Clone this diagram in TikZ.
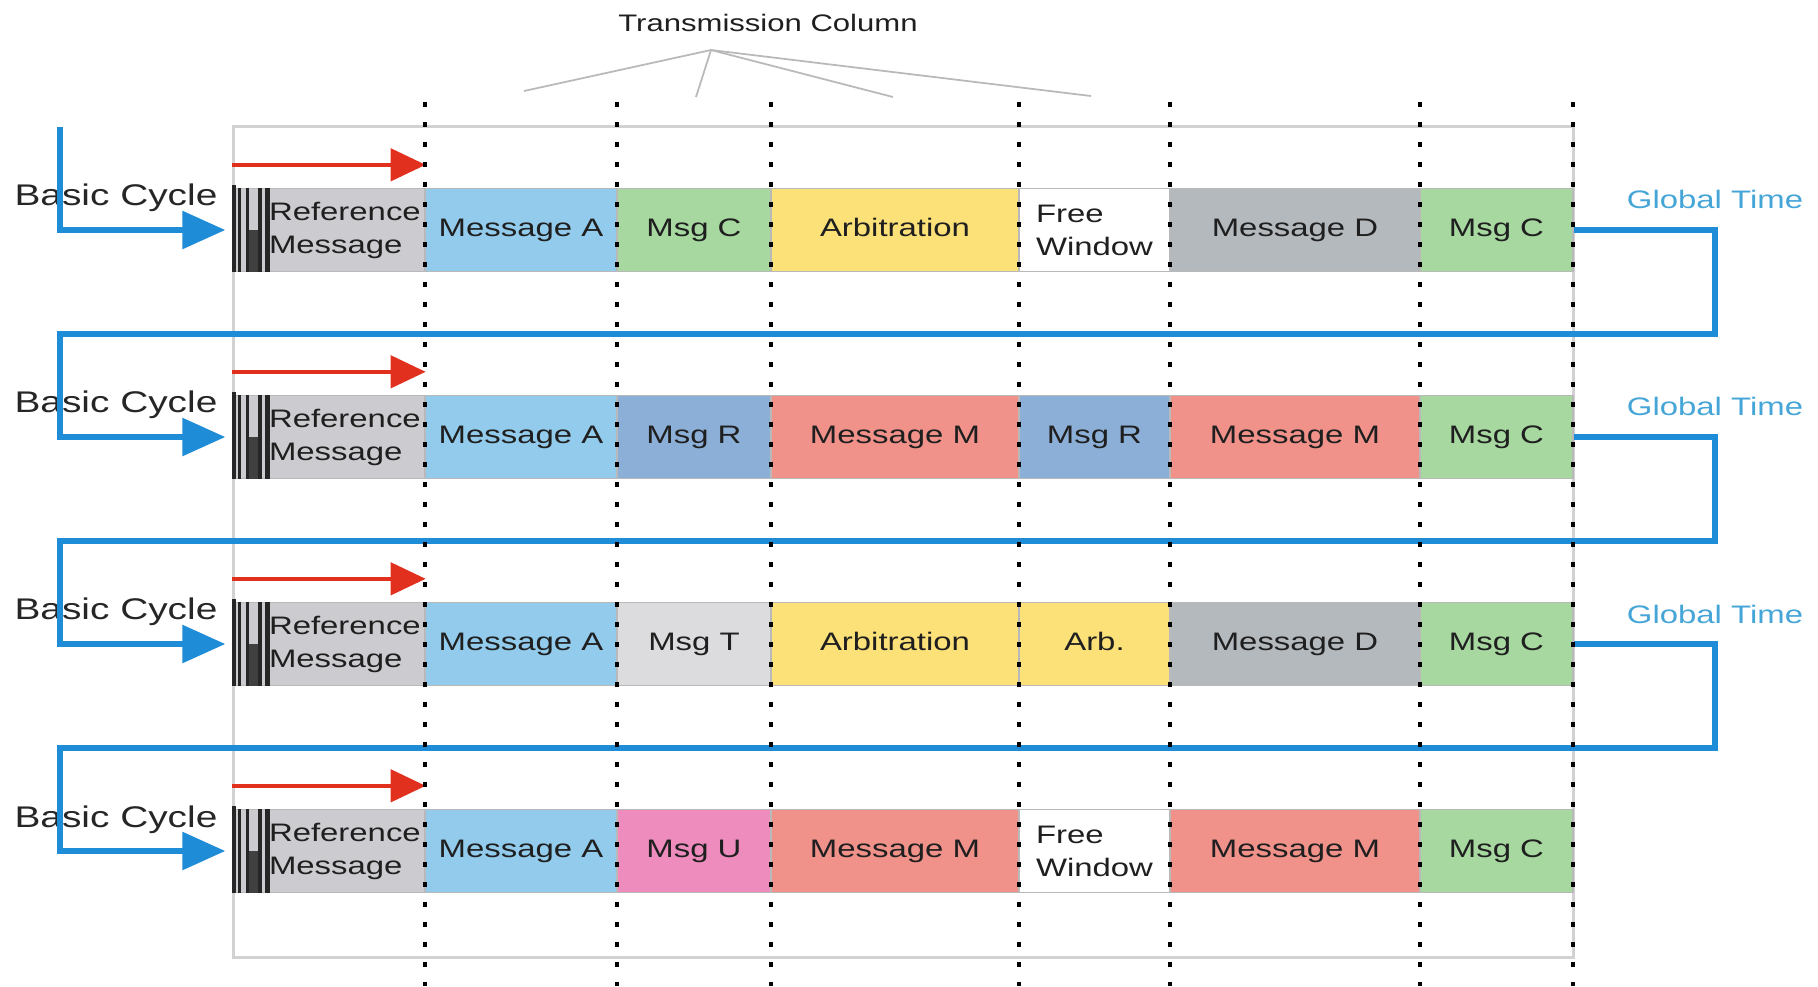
\documentclass[tikz,border=0pt]{standalone}
\usepackage{fontspec}
\setmainfont{Liberation Sans}[FakeStretch=1.3]
\usepackage{xcolor}
\usepackage{tikz}
\usetikzlibrary{arrows.meta, positioning}

\definecolor{refgray}{RGB}{204,204,208}
\definecolor{msgblue}{RGB}{146,203,236}
\definecolor{msggreen}{RGB}{166,216,160}
\definecolor{arbyellow}{RGB}{252,224,120}
\definecolor{msggray}{RGB}{180,185,190}
\definecolor{msgsteel}{RGB}{140,175,215}
\definecolor{msgsalmon}{RGB}{240,145,138}
\definecolor{msglight}{RGB}{220,220,222}
\definecolor{msgpink}{RGB}{238,140,190}
\definecolor{cycleblue}{RGB}{30,140,215}
\definecolor{timeblue}{RGB}{70,165,215}
\definecolor{refred}{RGB}{225,48,30}

% bars at the head of a reference message
\newcommand{\refbars}[1]{%
  \fill[black!85] ([yshift=0.03cm]#1.north west) rectangle ([xshift=0.04cm]#1.south west);
  \fill[black!85] ([xshift=0.06cm]#1.north west) rectangle ([xshift=0.09cm]#1.south west);
  \fill[black!85] ([xshift=0.14cm]#1.north west) rectangle ([xshift=0.17cm]#1.south west);
  \fill[black!75] ([xshift=0.17cm]#1.west) rectangle ([xshift=0.26cm]#1.south west);
  \fill[black!85] ([xshift=0.26cm]#1.north west) rectangle ([xshift=0.30cm]#1.south west);
  \fill[black!85] ([xshift=0.33cm]#1.north west) rectangle ([xshift=0.38cm]#1.south west);
}

\begin{document}
\begin{tikzpicture}[
  cell/.style={draw=gray!55, line width=0.4pt, minimum height=0.83cm, inner sep=0pt, align=left, text=black!88, text height=0.75em, text depth=0.37em, font=\fontsize{7.2}{9.4}\selectfont},
  twoline/.style={text height={}, text depth={}},
  slotref/.style={cell, fill=refgray, minimum width=1.92cm},
  slotA/.style={cell, minimum width=1.92cm},
  slotB/.style={cell, minimum width=1.54cm},
  slotC/.style={cell, minimum width=2.48cm},
  slotD/.style={cell, minimum width=1.51cm},
  slotE/.style={cell, minimum width=2.50cm},
  slotF/.style={cell, minimum width=1.53cm},
  reftext/.style={anchor=west, inner sep=0pt, align=left, text=black!88, font=\fontsize{7.2}{9.4}\selectfont},
  cyclelabel/.style={inner sep=0pt, text=black!85, font=\fontsize{8.5}{10}\selectfont},
  timelabel/.style={inner sep=0pt, text=timeblue, font=\fontsize{7.2}{9}\selectfont},
  cycleline/.style={draw=cycleblue, line width=0.06cm, -{Triangle[length=0.43cm, width=0.37cm]}},
  refarrow/.style={draw=refred, line width=0.045cm, -{Triangle[length=0.35cm, width=0.32cm]}},
  slotline/.style={black, line width=0.045cm, dash pattern=on 0.045cm off 0.155cm},
  pointer/.style={draw=gray!55, line width=0.5pt}
]
\useasboundingbox (0,0) rectangle (18.18,-9.86);

% Transmission column label
\node[inner sep=0pt, text=black!88, font=\fontsize{6.8}{8}\selectfont] (tcol) at (7.68,-0.23) {Transmission Column};
\coordinate (tapex) at (7.11,-0.50);
\coordinate (tc1) at (5.24,-0.91);
\coordinate (tc2) at (6.96,-0.97);
\coordinate (tc3) at (8.93,-0.97);
\coordinate (tc4) at (10.91,-0.96);
\draw[pointer] (tapex) -- (tc1);
\draw[pointer] (tapex) -- (tc2);
\draw[pointer] (tapex) -- (tc3);
\draw[pointer] (tapex) -- (tc4);

% Frame
\draw[gray!35, line width=0.03cm] (2.33,-1.26) rectangle (15.73,-9.57);

% Cycle 1
\node[slotref] (r1ref) at (3.29,-2.30) {};
\node[slotA, fill=msgblue] (r1a) at (5.21,-2.30) {Message A};
\node[slotB, fill=msggreen] (r1b) at (6.94,-2.30) {Msg C};
\node[slotC, fill=arbyellow] (r1c) at (8.95,-2.30) {Arbitration};
\node[slotD, twoline, fill=white] (r1d) at (10.945,-2.30) {Free\\Window};
\node[slotE, fill=msggray] (r1e) at (12.95,-2.30) {Message D};
\node[slotF, fill=msggreen] (r1f) at (14.965,-2.30) {Msg C};

% Cycle 2
\node[slotref] (r2ref) at (3.29,-4.37) {};
\node[slotA, fill=msgblue] (r2a) at (5.21,-4.37) {Message A};
\node[slotB, fill=msgsteel] (r2b) at (6.94,-4.37) {Msg R};
\node[slotC, fill=msgsalmon] (r2c) at (8.95,-4.37) {Message M};
\node[slotD, fill=msgsteel] (r2d) at (10.945,-4.37) {Msg R};
\node[slotE, fill=msgsalmon] (r2e) at (12.95,-4.37) {Message M};
\node[slotF, fill=msggreen] (r2f) at (14.965,-4.37) {Msg C};

% Cycle 3
\node[slotref] (r3ref) at (3.29,-6.44) {};
\node[slotA, fill=msgblue] (r3a) at (5.21,-6.44) {Message A};
\node[slotB, fill=msglight] (r3b) at (6.94,-6.44) {Msg T};
\node[slotC, fill=arbyellow] (r3c) at (8.95,-6.44) {Arbitration};
\node[slotD, fill=arbyellow] (r3d) at (10.945,-6.44) {Arb.};
\node[slotE, fill=msggray] (r3e) at (12.95,-6.44) {Message D};
\node[slotF, fill=msggreen] (r3f) at (14.965,-6.44) {Msg C};

% Cycle 4
\node[slotref] (r4ref) at (3.29,-8.51) {};
\node[slotA, fill=msgblue] (r4a) at (5.21,-8.51) {Message A};
\node[slotB, fill=msgpink] (r4b) at (6.94,-8.51) {Msg U};
\node[slotC, fill=msgsalmon] (r4c) at (8.95,-8.51) {Message M};
\node[slotD, twoline, fill=white] (r4d) at (10.945,-8.51) {Free\\Window};
\node[slotE, fill=msgsalmon] (r4e) at (12.95,-8.51) {Message M};
\node[slotF, fill=msggreen] (r4f) at (14.965,-8.51) {Msg C};

% Reference messages
\refbars{r1ref}
\refbars{r2ref}
\refbars{r3ref}
\refbars{r4ref}
\node[reftext] (r1txt) at ([xshift=0.36cm]r1ref.west) {Reference\\Message};
\node[reftext] (r2txt) at ([xshift=0.36cm]r2ref.west) {Reference\\Message};
\node[reftext] (r3txt) at ([xshift=0.36cm]r3ref.west) {Reference\\Message};
\node[reftext] (r4txt) at ([xshift=0.36cm]r4ref.west) {Reference\\Message};

% Labels
\node[cyclelabel] (bc1) at (1.16,-1.98) {Basic Cycle};
\node[cyclelabel] (bc2) at (1.16,-4.05) {Basic Cycle};
\node[cyclelabel] (bc3) at (1.16,-6.12) {Basic Cycle};
\node[cyclelabel] (bc4) at (1.16,-8.20) {Basic Cycle};
\node[timelabel] (gt1) at (17.15,-1.99) {Global Time};
\node[timelabel] (gt2) at (17.15,-4.06) {Global Time};
\node[timelabel] (gt3) at (17.15,-6.14) {Global Time};

% Cycle flow
\coordinate (cstart) at (0.60,-1.27);
\coordinate (turn1) at (0.60,-3.335);
\coordinate (turn2) at (0.60,-5.405);
\coordinate (turn3) at (0.60,-7.475);
\draw[cycleline, shorten >=0.07cm] (cstart) |- (r1ref.west);
\draw[cycleline, shorten >=0.07cm] (r1f.east) -- ++(1.41,0) |- (turn1) |- (r2ref.west);
\draw[cycleline, shorten >=0.07cm] (r2f.east) -- ++(1.41,0) |- (turn2) |- (r3ref.west);
\draw[cycleline, shorten >=0.07cm] (r3f.east) -- ++(1.41,0) |- (turn3) |- (r4ref.west);

% Reference marks
\draw[refarrow] ([yshift=0.23cm]r1ref.north west) -- ([yshift=0.23cm]r1ref.north east);
\draw[refarrow] ([yshift=0.23cm]r2ref.north west) -- ([yshift=0.23cm]r2ref.north east);
\draw[refarrow] ([yshift=0.23cm]r3ref.north west) -- ([yshift=0.23cm]r3ref.north east);
\draw[refarrow] ([yshift=0.23cm]r4ref.north west) -- ([yshift=0.23cm]r4ref.north east);

% Slot boundaries
\draw[slotline] (4.25,-1.02) -- (4.25,-9.86);
\draw[slotline] (6.17,-1.02) -- (6.17,-9.86);
\draw[slotline] (7.71,-1.02) -- (7.71,-9.86);
\draw[slotline] (10.19,-1.02) -- (10.19,-9.86);
\draw[slotline] (11.70,-1.02) -- (11.70,-9.86);
\draw[slotline] (14.20,-1.02) -- (14.20,-9.86);
\draw[slotline] (15.73,-1.02) -- (15.73,-9.86);

\end{tikzpicture}
\end{document}
